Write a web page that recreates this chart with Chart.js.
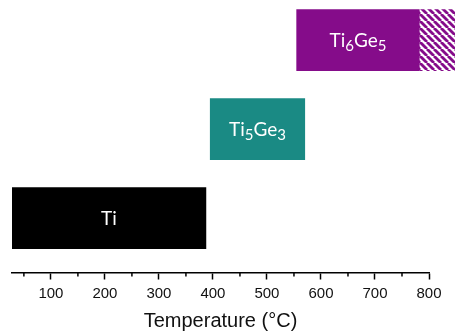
<!DOCTYPE html>
<html>
<head>
<meta charset="utf-8">
<script src="https://cdn.jsdelivr.net/npm/chart.js@4.4.1/dist/chart.umd.min.js"></script>
<style>
  html, body { margin: 0; padding: 0; background: #fff; }
  #wrap { width: 455px; height: 334px; }
</style>
</head>
<body>
<div id="wrap"><canvas id="chart" width="455" height="334"></canvas></div>
<script>
// Phases and their temperature ranges (°C)
const phases = ['Ti', 'Ti5Ge3', 'Ti6Ge5'];
const rows = [1, 2, 3];
const startTemps = [28, 395, 555];
const endTemps = [387, 570, 782];
const phaseColors = ['#000000', '#1a8a84', '#850c8a'];

// hatched (uncertain) continuation of Ti6Ge5
const hatchRow = 3;
const hatchStart = 782;
const hatchEnd = 850;

const minorTicks = [50, 150, 250, 350, 450, 550, 650, 750];

// diagonal stripe pattern
function makeHatch(color) {
    const s = 7;
    const c = document.createElement('canvas');
    c.width = s;
    c.height = s;
    const g = c.getContext('2d');
    g.fillStyle = '#ffffff';
    g.fillRect(0, 0, s, s);
    g.strokeStyle = color;
    g.lineWidth = 2.8;
    [-s, 0, s].forEach(k => {
        g.beginPath();
        g.moveTo(k, 0);
        g.lineTo(k + s, s);
        g.stroke();
    });
    return g.createPattern(c, 'repeat');
}

// draws "Ti6Ge5" with digits as subscripts
function drawFormula(ctx, text, cx, cy) {
    const parts = text.match(/[A-Za-z]+|\d+/g);
    const big = '19px Lato, "Open Sans", sans-serif';
    const small = '15px Lato, "Open Sans", sans-serif';
    let total = 0;
    parts.forEach(p => {
        ctx.font = /\d/.test(p) ? small : big;
        total += ctx.measureText(p).width;
    });
    let x = cx - total / 2;
    const base = cy + 6.5;
    ctx.textAlign = 'left';
    ctx.textBaseline = 'alphabetic';
    ctx.fillStyle = '#ffffff';
    parts.forEach(p => {
        const sub = /\d/.test(p);
        ctx.font = sub ? small : big;
        ctx.fillText(p, x, sub ? base + 4 : base);
        x += ctx.measureText(p).width;
    });
}

const labelPlugin = {
    id: 'phaseLabels',
    afterDatasetsDraw(chart) {
        const ctx = chart.ctx;
        const meta = chart.getDatasetMeta(0);
        ctx.save();
        meta.data.forEach((bar, i) => {
            drawFormula(ctx, phases[i], (bar.x + bar.base) / 2, bar.y);
        });
        ctx.restore();
    }
};

const minorTickPlugin = {
    id: 'minorTicks',
    afterDraw(chart) {
        const scale = chart.scales.x;
        const ctx = chart.ctx;
        ctx.save();
        ctx.strokeStyle = '#000';
        ctx.lineWidth = 1.5;
        minorTicks.forEach(v => {
            const px = scale.getPixelForValue(v);
            ctx.beginPath();
            ctx.moveTo(px, scale.top);
            ctx.lineTo(px, scale.top + 4);
            ctx.stroke();
        });
        ctx.restore();
    }
};

const ctx = document.getElementById('chart').getContext('2d');

new Chart(ctx, {
    type: 'bar',
    data: {
        datasets: [{
            label: 'phases',
            data: rows.map((r, i) => ({ x: [startTemps[i], endTemps[i]], y: r })),
            backgroundColor: phaseColors,
            borderWidth: 0,
            barThickness: 61,
            grouped: false
        }, {
            label: 'uncertain',
            data: [{ x: [hatchStart, hatchEnd], y: hatchRow }],
            backgroundColor: makeHatch(phaseColors[2]),
            borderWidth: 0,
            barThickness: 61,
            grouped: false,
            clip: false
        }]
    },
    options: {
        indexAxis: 'y',
        responsive: false,
        animation: false,
        layout: {
            padding: { left: 12, right: 26, top: 0, bottom: 0 }
        },
        plugins: {
            legend: { display: false },
            tooltip: { enabled: false }
        },
        scales: {
            y: {
                type: 'linear',
                min: 0.39,
                max: 3.45,
                offset: false,
                grace: 0,
                display: false
            },
            x: {
                type: 'linear',
                position: 'bottom',
                min: 28,
                max: 800,
                offset: false,
                border: { display: true, color: '#000', width: 1.5 },
                grid: {
                    drawOnChartArea: false,
                    drawTicks: true,
                    tickLength: 7,
                    tickColor: '#000',
                    tickWidth: 1.5
                },
                ticks: {
                    stepSize: 100,
                    includeBounds: false,
                    maxRotation: 0,
                    padding: 5,
                    color: '#111',
                    font: { family: '"Liberation Sans", Arial, sans-serif', size: 15 }
                },
                title: {
                    display: true,
                    text: 'Temperature (°C)',
                    color: '#111',
                    font: { family: '"Liberation Sans", Arial, sans-serif', size: 20 },
                    padding: { top: 1.5, bottom: 1 }
                }
            }
        }
    },
    plugins: [labelPlugin, minorTickPlugin]
});
</script>
</body>
</html>
